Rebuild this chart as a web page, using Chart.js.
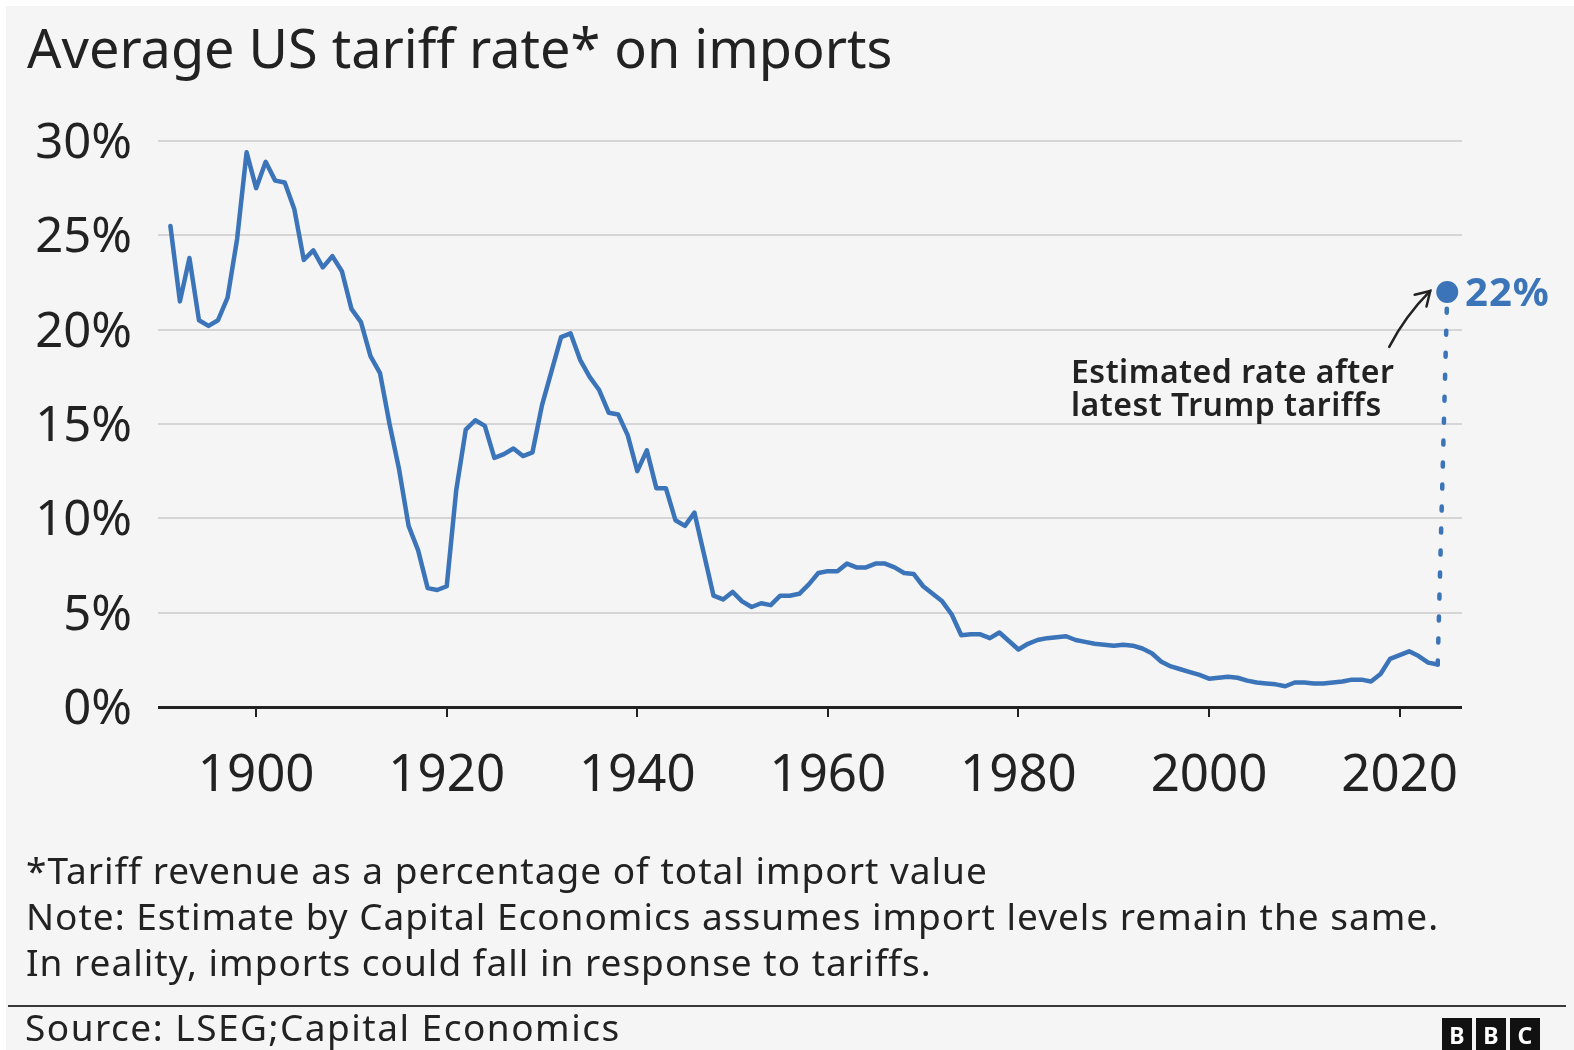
<!DOCTYPE html>
<html>
<head>
<meta charset="utf-8">
<script src="https://cdn.jsdelivr.net/npm/chart.js@4.4.1/dist/chart.umd.min.js"></script>
<style>
  html, body { margin: 0; padding: 0; background: #fff; }
  body { width: 1574px; height: 1050px; overflow: hidden; position: relative; font-family: "Noto Sans", sans-serif; color: #222; }
  #card { position: absolute; left: 6px; top: 6px; width: 1568px; height: 1044px; background: #f5f5f5; }
  #chart { position: absolute; left: 0; top: 0; }
  .txt { position: absolute; white-space: nowrap; }
  #title { left: 27px; top: 20px; font-size: 54px; line-height: 54px; }
  #notes { left: 26px; top: 847px; font-size: 37px; line-height: 46px; letter-spacing: 1px; }
  #source { left: 25px; top: 1008px; font-size: 37px; line-height: 37px; letter-spacing: 1.5px; }
  #rule { position: absolute; left: 8px; top: 1005px; width: 1558px; height: 2px; background: #3a3a3a; }
  #annot { left: 1071px; top: 354px; font-size: 32px; line-height: 33px; font-weight: 600; letter-spacing: 0.5px; }
  #est { left: 1465px; top: 271px; font-size: 40px; line-height: 40px; font-weight: 700; letter-spacing: 1px; color: #3b74b8; }
  #logo { position: absolute; left: 1442px; top: 1018px; display: flex; gap: 4px; }
  #logo span { width: 30px; height: 34px; background: #111; color: #fff; font: 700 23px/34px "Noto Sans", sans-serif; text-align: center; }
</style>
</head>
<body>
<div id="card"></div>
<canvas id="chart" width="1574" height="1050"></canvas>
<div class="txt" id="title">Average US tariff rate* on imports</div>
<div class="txt" id="annot">Estimated rate after<br>latest Trump tariffs</div>
<div class="txt" id="est">22%</div>
<div class="txt" id="notes">*Tariff revenue as a percentage of total import value<br>Note: Estimate by Capital Economics assumes import levels remain the same.<br>In reality, imports could fall in response to tariffs.</div>
<div id="rule"></div>
<div class="txt" id="source">Source: LSEG;Capital Economics</div>
<div id="logo"><span>B</span><span>B</span><span>C</span></div>
<script>
// annual average tariff rate, % of total import value, 1891-2024
const firstYear = 1891;
const tariffRate = [
  25.5, 21.5, 23.8, 20.5, 20.2, 20.5, 21.7, 24.8, 29.4,             // 1891-1899
  27.5, 28.9, 27.9, 27.8, 26.4, 23.7, 24.2, 23.3, 23.9, 23.1,       // 1900s
  21.1, 20.4, 18.6, 17.7, 15.0, 12.6, 9.6, 8.3, 6.3, 6.2,           // 1910s
  6.4, 11.5, 14.7, 15.2, 14.9, 13.2, 13.4, 13.7, 13.3, 13.5,        // 1920s
  16.0, 17.8, 19.6, 19.8, 18.4, 17.5, 16.8, 15.6, 15.5, 14.4,       // 1930s
  12.5, 13.6, 11.6, 11.6, 9.9, 9.6, 10.3, 8.1, 5.9, 5.7,            // 1940s
  6.1, 5.6, 5.3, 5.5, 5.4, 5.9, 5.9, 6.0, 6.5, 7.1,                 // 1950s
  7.2, 7.2, 7.6, 7.4, 7.4, 7.6, 7.6, 7.4, 7.1, 7.05,                // 1960s
  6.4, 6.0, 5.6, 4.9, 3.8, 3.85, 3.85, 3.65, 3.95, 3.5,             // 1970s
  3.05, 3.35, 3.55, 3.65, 3.7, 3.75, 3.55, 3.45, 3.35, 3.3,         // 1980s
  3.25, 3.3, 3.25, 3.1, 2.85, 2.4, 2.15, 2.0, 1.85, 1.7,            // 1990s
  1.5, 1.55, 1.6, 1.55, 1.4, 1.3, 1.25, 1.2, 1.1, 1.3,              // 2000s
  1.3, 1.25, 1.25, 1.3, 1.35, 1.45, 1.45, 1.35, 1.75, 2.55,         // 2010s
  2.75, 2.95, 2.7, 2.35, 2.25                                       // 2020-2024
];
const estimateYears = [2024, 2025];
const estimateRate = [2.25, 22];
const xTicks = [1900, 1920, 1940, 1960, 1980, 2000, 2020];
const yTicks = [0, 5, 10, 15, 20, 25, 30];

const blue = '#3b74b8';
const years = tariffRate.map((_, i) => firstYear + i);

// curved arrow pointing at the estimate dot
const arrowPlugin = {
  id: 'arrow',
  afterDatasetsDraw(chart) {
    const pt = chart.getDatasetMeta(1).data[1];
    const ctx = chart.ctx;
    const tail = { x: pt.x - 58, y: pt.y + 55 };
    const ctrl = { x: pt.x - 42, y: pt.y + 24 };
    const tip = { x: pt.x - 17, y: pt.y - 1 };
    ctx.save();
    ctx.strokeStyle = '#222';
    ctx.lineWidth = 2.5;
    ctx.lineCap = 'round';
    ctx.beginPath();
    ctx.moveTo(tail.x, tail.y);
    ctx.quadraticCurveTo(ctrl.x, ctrl.y, tip.x, tip.y);
    ctx.stroke();
    const ang = Math.atan2(tip.y - ctrl.y, tip.x - ctrl.x);
    const len = 16;
    ctx.beginPath();
    ctx.moveTo(tip.x - len * Math.cos(ang - 0.55), tip.y - len * Math.sin(ang - 0.55));
    ctx.lineTo(tip.x, tip.y);
    ctx.lineTo(tip.x - len * Math.cos(ang + 0.55), tip.y - len * Math.sin(ang + 0.55));
    ctx.stroke();
    ctx.restore();
  }
};

const tickFont = size => ({ family: 'Noto Sans', size: size, weight: 400 });

new Chart(document.getElementById('chart'), {
  type: 'line',
  data: {
    datasets: [
      {
        data: years.map((y, i) => ({ x: y, y: tariffRate[i] })),
        borderColor: blue,
        borderWidth: 4.5,
        borderJoinStyle: 'round',
        borderCapStyle: 'round',
        pointRadius: 0,
        tension: 0
      },
      {
        data: estimateYears.map((y, i) => ({ x: y, y: estimateRate[i] })),
        borderColor: blue,
        borderWidth: 4.5,
        borderDash: [4, 18],
        borderCapStyle: 'round',
        pointRadius: [0, 11],
        pointBackgroundColor: blue,
        pointBorderWidth: 0,
        tension: 0
      }
    ]
  },
  options: {
    responsive: false,
    animation: false,
    devicePixelRatio: 1,
    events: [],
    layout: { padding: { left: 0, top: 141, right: 112, bottom: 0 } },
    plugins: { legend: { display: false }, tooltip: { enabled: false } },
    scales: {
      x: {
        type: 'linear',
        min: 1889.7,
        max: 2026.55,
        afterBuildTicks: s => { s.ticks = xTicks.map(v => ({ value: v })) },
        afterFit: s => { s.height = 343 },
        grid: { drawOnChartArea: false, drawTicks: true, tickLength: 10, color: '#222', lineWidth: 2 },
        border: { display: false },
        ticks: { font: tickFont(51), color: '#222', padding: 29, maxRotation: 0, callback: v => String(v) }
      },
      y: {
        min: 0,
        max: 30,
        afterBuildTicks: s => { s.ticks = yTicks.map(v => ({ value: v })) },
        afterFit: s => { s.width = 158 },
        grid: {
          drawTicks: false,
          color: c => c.tick && c.tick.value === 0 ? '#222' : '#d5d5d5',
          lineWidth: c => c.tick && c.tick.value === 0 ? 3 : 2
        },
        border: { display: false },
        ticks: { font: tickFont(49), color: '#222', padding: 26, labelOffset: 3, callback: v => v + '%' }
      }
    }
  },
  plugins: [arrowPlugin]
});
</script>
</body>
</html>
